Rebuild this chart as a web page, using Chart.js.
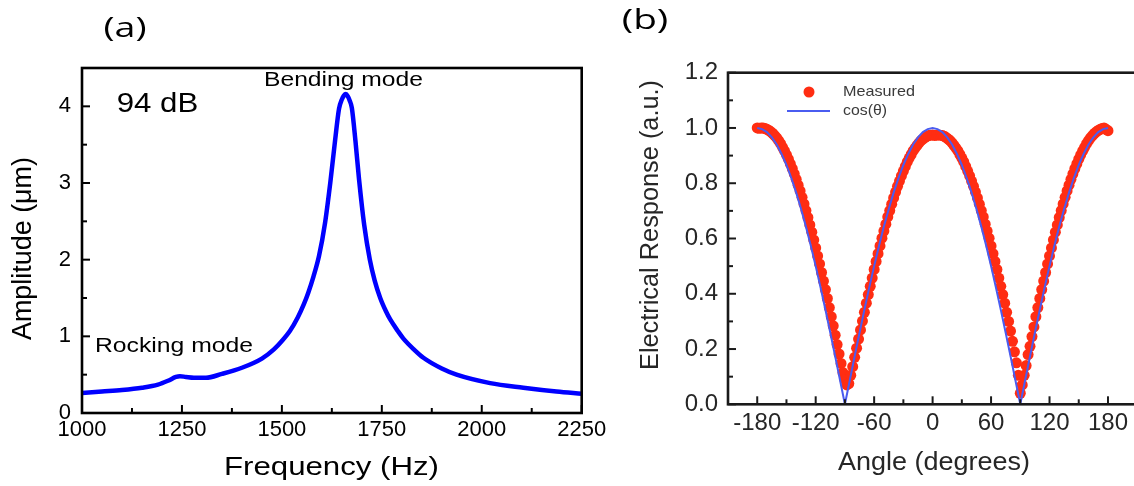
<!DOCTYPE html>
<html><head><meta charset="utf-8">
<script src="https://cdn.jsdelivr.net/npm/chart.js@4/dist/chart.umd.min.js"></script>
<style>
html,body{margin:0;padding:0;background:#fff;width:1134px;height:486px;overflow:hidden;position:relative}
#ca{position:absolute;left:0;top:0}
#cb{position:absolute;left:560px;top:0}
</style></head><body>
<canvas id="ca" width="620" height="486"></canvas>
<canvas id="cb" width="600" height="486"></canvas>
<script>
// ---------- Panel (a) data ----------
const freqA = [1000, 1050, 1100, 1150, 1190, 1215, 1235, 1245, 1260, 1280, 1310, 1350, 1400, 1450, 1480, 1500, 1520, 1540, 1555, 1566, 1579, 1593, 1608, 1621, 1633, 1643, 1650, 1655, 1660, 1665, 1670, 1675, 1684, 1693, 1706, 1720, 1732, 1746, 1760, 1771, 1790, 1804, 1830, 1854, 1900, 1937, 2021, 2104, 2187, 2250];
const ampA  = [0.26, 0.28, 0.30, 0.33, 0.37, 0.42, 0.47, 0.48, 0.47, 0.46, 0.46, 0.51, 0.59, 0.71, 0.83, 0.94, 1.07, 1.25, 1.42, 1.57, 1.78, 2.05, 2.48, 3.00, 3.55, 3.97, 4.09, 4.14, 4.16, 4.13, 4.07, 3.98, 3.55, 3.05, 2.45, 2.00, 1.73, 1.50, 1.33, 1.22, 1.07, 0.97, 0.83, 0.72, 0.58, 0.50, 0.39, 0.33, 0.28, 0.25];
const xTicksA = [1000, 1250, 1500, 1750, 2000, 2250];
const xMinorA = [1125, 1375, 1625, 1875, 2125];
const yTicksA = [0, 1, 2, 3, 4];
const yMinorA = [0.5, 1.5, 2.5, 3.5];

// ---------- Panel (b) data ----------
const angleMeas = [-180,-178,-176,-174,-172,-170,-168,-166,-164,-162,-160,-158,-156,-154,-152,-150,-148,-146,-144,-142,-140,-138,-136,-134,-132,-130,-128,-126,-124,-122,-120,-118,-116,-114,-112,-110,-108,-106,-104,-102,-100,-98,-96,-94,-92,-90,-88,-86,-84,-82,-80,-78,-76,-74,-72,-70,-68,-66,-64,-62,-60,-58,-56,-54,-52,-50,-48,-46,-44,-42,-40,-38,-36,-34,-32,-30,-28,-26,-24,-22,-20,-18,-16,-14,-12,-10,-8,-6,-4,-2,0,2,4,6,8,10,12,14,16,18,20,22,24,26,28,30,32,34,36,38,40,42,44,46,48,50,52,54,56,58,60,62,64,66,68,70,72,74,76,78,80,82,84,86,88,90,92,94,96,98,100,102,104,106,108,110,112,114,116,118,120,122,124,126,128,130,132,134,136,138,140,142,144,146,148,150,152,154,156,158,160,162,164,166,168,170,172,174,176,178,180];
const measured = [1.0,0.999,1.0,1.0,0.998,0.995,0.991,0.986,0.98,0.972,0.964,0.954,0.943,0.93,0.917,0.903,0.887,0.87,0.853,0.834,0.814,0.793,0.772,0.749,0.725,0.701,0.676,0.649,0.623,0.595,0.566,0.537,0.508,0.477,0.446,0.415,0.383,0.35,0.317,0.284,0.25,0.216,0.182,0.148,0.115,0.09,0.07,0.075,0.105,
 0.136,0.17,0.203,0.236,0.269,0.301,0.333,0.366,0.397,0.427,0.457,0.488,0.517,0.545,0.573,0.601,0.627,0.652,0.678,0.701,0.724,0.747,0.768,0.789,0.808,0.827,0.844,0.861,0.877,0.891,0.904,0.917,0.927,0.937,0.946,0.954,0.96,0.965,0.97,0.973,0.974,0.975,
 0.973,0.974,0.975,0.974,0.973,0.97,0.965,0.96,0.954,0.946,0.937,0.927,0.917,0.904,0.891,0.877,0.861,0.844,0.827,0.808,0.789,0.768,0.747,0.724,0.701,0.678,0.652,0.627,0.601,0.573,0.545,0.517,0.488,0.457,0.427,0.397,0.366,0.333,0.30,0.265,0.228,0.19,0.15,0.105,0.04,
 0.07,0.105,0.14,0.18,0.21,0.245,0.28,0.317,0.35,0.383,0.415,0.446,0.477,0.508,0.537,0.566,0.595,0.623,0.649,0.676,0.701,0.725,0.749,0.772,0.793,0.814,0.834,0.853,0.87,0.887,0.903,0.917,0.93,0.943,0.954,0.964,0.972,0.98,0.986,0.991,0.995,0.998,1.0,0.995,0.99];
const angleCos = [-180,-175,-170,-165,-160,-155,-150,-145,-140,-135,-130,-125,-120,-115,-110,-105,-100,-95,-90,-85,-80,-75,-70,-65,-60,-55,-50,-45,-40,-35,-30,-25,-20,-15,-10,-5,0,5,10,15,20,25,30,35,40,45,50,55,60,65,70,75,80,85,90,95,100,105,110,115,120,125,130,135,140,145,150,155,160,165,170,175,180];
const cosVals = [1,0.996,0.985,0.966,0.94,0.906,0.866,0.819,0.766,0.707,0.643,0.574,0.5,0.423,0.342,0.259,0.174,0.087,0,0.087,0.174,0.259,0.342,0.423,0.5,0.574,0.643,0.707,0.766,0.819,0.866,0.906,0.94,0.966,0.985,0.996,1,0.996,0.985,0.966,0.94,0.906,0.866,0.819,0.766,0.707,0.643,0.574,0.5,0.423,0.342,0.259,0.174,0.087,0,0.087,0.174,0.259,0.342,0.423,0.5,0.574,0.643,0.707,0.766,0.819,0.866,0.906,0.94,0.966,0.985,0.996,1];
const xTicksB = [-180, -120, -60, 0, 60, 120, 180];
const xMinorB = [-150, -90, -30, 30, 90, 150];
const yTicksB = [0, 0.2, 0.4, 0.6, 0.8, 1.0, 1.2];
const yMinorB = [0.1, 0.3, 0.5, 0.7, 0.9, 1.1];

// ---------- helpers ----------
const FONT = '"Liberation Sans", Arial, sans-serif';
function drawText(ctx, t) {
  ctx.save();
  ctx.font = t.font;
  ctx.fillStyle = t.color || '#000';
  ctx.textBaseline = t.baseline || 'alphabetic';
  ctx.textAlign = t.align || 'left';
  const w = ctx.measureText(t.text).width;
  const sx = t.width ? t.width / w : 1;
  ctx.translate(t.x, t.y);
  if (t.rot) ctx.rotate(t.rot);
  ctx.scale(sx, 1);
  ctx.fillText(t.text, 0, 0);
  ctx.restore();
}
function framePlugin(o) {
  return {
    id: 'frame' + o.id,
    afterDraw(chart) {
      const ctx = chart.ctx, a = chart.chartArea, xs = chart.scales.x, ys = chart.scales.y;
      ctx.save();
      ctx.strokeStyle = o.color; ctx.lineWidth = 2;
      const tick = (vals, len, isX) => vals.forEach(v => {
        ctx.beginPath();
        if (isX) { const p = xs.getPixelForValue(v); ctx.moveTo(p, a.bottom); ctx.lineTo(p, a.bottom - len); }
        else { const p = ys.getPixelForValue(v); ctx.moveTo(a.left, p); ctx.lineTo(a.left + len, p); }
        ctx.stroke();
      });
      tick(o.xMaj, 8, true); tick(o.xMin, 5, true);
      tick(o.yMaj, 8, false); tick(o.yMin, 5, false);
      ctx.lineWidth = 2.6;
      ctx.strokeRect(a.left, a.top, a.right - a.left, a.bottom - a.top);
      ctx.restore();
      (o.texts || []).forEach(t => drawText(ctx, t));
      if (o.extra) o.extra(chart);
    }
  };
}
function fixY(w) { return s => { s.width = w; s.paddingTop = 0; s.paddingBottom = 0; }; }
function fixX(h) { return s => { s.height = h; s.paddingLeft = 0; s.paddingRight = 0; }; }

// ---------- Panel (a) ----------
new Chart(document.getElementById('ca'), {
  type: 'line',
  data: { datasets: [{
    data: freqA.map((f, i) => ({ x: f, y: ampA[i] })),
    borderColor: '#0000ff', borderWidth: 4.5, pointRadius: 0,
    cubicInterpolationMode: 'monotone', fill: false
  }]},
  options: {
    responsive: false, animation: false, events: [],
    layout: { padding: { left: 0, top: 68, right: 38.3, bottom: 0 } },
    plugins: { legend: { display: false }, tooltip: { enabled: false } },
    scales: {
      x: { type: 'linear', min: 1000, max: 2250,
        grid: { display: false, drawTicks: false }, border: { display: false },
        ticks: { autoSkip: false, maxRotation: 0, padding: 4, color: '#000', font: { family: FONT, size: 22 }, callback: v => String(v) },
        afterBuildTicks: s => { s.ticks = xTicksA.map(v => ({ value: v })); },
        afterFit: fixX(73) },
      y: { type: 'linear', min: 0, max: 4.5,
        grid: { display: false, drawTicks: false }, border: { display: false },
        ticks: { autoSkip: false, padding: 11, color: '#000', font: { family: FONT, size: 22 }, callback: v => String(v) },
        afterBuildTicks: s => { s.ticks = yTicksA.map(v => ({ value: v })); },
        afterFit: fixY(82) }
    }
  },
  plugins: [framePlugin({
    id: 'a', color: '#000', xMaj: xTicksA, xMin: xMinorA, yMaj: yTicksA, yMin: yMinorA,
    texts: [
      { text: '(a)', font: '28px "Open Sans"', x: 125, y: 29, align: 'center', baseline: 'middle', width: 43 },
      { text: '94 dB', font: '28px ' + FONT, x: 116.7, y: 111.7, width: 81.6 },
      { text: 'Bending mode', font: '20px ' + FONT, x: 264, y: 86, width: 159 },
      { text: 'Rocking mode', font: '20px ' + FONT, x: 95, y: 351.7, width: 158 },
      { text: 'Frequency (Hz)', font: '25px ' + FONT, x: 331.5, y: 468, align: 'center', baseline: 'middle', width: 215 },
      { text: 'Amplitude (\u03bcm)', font: '27px ' + FONT, x: 24, y: 248.5, align: 'center', baseline: 'middle', rot: -Math.PI / 2, width: 183 }
    ]
  })]
});

// ---------- Panel (b) ----------
const RED = '#ff2d12', BLUE = '#4a5cf0', GREY = '#262626';
new Chart(document.getElementById('cb'), {
  type: 'line',
  data: { datasets: [
    { label: 'cos(\u03b8)', order: 0,
      data: angleCos.map((a, i) => ({ x: a, y: cosVals[i] })),
      borderColor: BLUE, borderWidth: 2, pointRadius: 0, tension: 0, fill: false },
    { label: 'Measured', order: 1,
      data: angleMeas.map((a, i) => ({ x: a, y: measured[i] })),
      showLine: false, pointRadius: 5.5, pointBackgroundColor: RED, pointBorderWidth: 0, borderColor: RED }
  ]},
  options: {
    responsive: false, animation: false, events: [],
    layout: { padding: { left: 0, top: 72.7, right: 22.8, bottom: 0 } },
    plugins: { legend: { display: false }, tooltip: { enabled: false } },
    scales: {
      x: { type: 'linear', min: -210, max: 210,
        grid: { display: false, drawTicks: false }, border: { display: false },
        ticks: { autoSkip: false, maxRotation: 0, padding: 5, color: GREY, font: { family: FONT, size: 24 }, callback: v => String(v) },
        afterBuildTicks: s => { s.ticks = xTicksB.map(v => ({ value: v })); },
        afterFit: fixX(81.7) },
      y: { type: 'linear', min: 0, max: 1.2,
        grid: { display: false, drawTicks: false }, border: { display: false },
        ticks: { autoSkip: false, padding: 10, color: GREY, font: { family: FONT, size: 24 }, callback: v => Number(v).toFixed(1) },
        afterBuildTicks: s => { s.ticks = yTicksB.map(v => ({ value: v })); },
        afterFit: fixY(168) }
    }
  },
  plugins: [framePlugin({
    id: 'b', color: '#1a1a1a', xMaj: xTicksB, xMin: xMinorB, yMaj: yTicksB, yMin: yMinorB,
    texts: [
      { text: '(b)', font: '28px "Open Sans"', x: 85, y: 21.5, align: 'center', baseline: 'middle', width: 46.6 },
      { text: 'Angle (degrees)', font: '25px ' + FONT, x: 374, y: 463, align: 'center', baseline: 'middle', width: 192, color: GREY },
      { text: 'Electrical Response (a.u.)', font: '25px ' + FONT, x: 91, y: 225, align: 'center', baseline: 'middle', rot: -Math.PI / 2, width: 290, color: GREY },
      { text: 'Measured', font: '15px ' + FONT, x: 283, y: 92, baseline: 'middle', width: 72, color: '#3a3a3a' },
      { text: 'cos(\u03b8)', font: '15px ' + FONT, x: 283, y: 111, baseline: 'middle', width: 44, color: '#3a3a3a' }
    ],
    extra(chart) {
      const ctx = chart.ctx;
      ctx.save();
      ctx.fillStyle = RED;
      ctx.beginPath(); ctx.arc(249, 92, 5.5, 0, Math.PI * 2); ctx.fill();
      ctx.strokeStyle = BLUE; ctx.lineWidth = 2;
      ctx.beginPath(); ctx.moveTo(227, 111); ctx.lineTo(270, 111); ctx.stroke();
      ctx.restore();
    }
  })]
});
</script></body></html>
